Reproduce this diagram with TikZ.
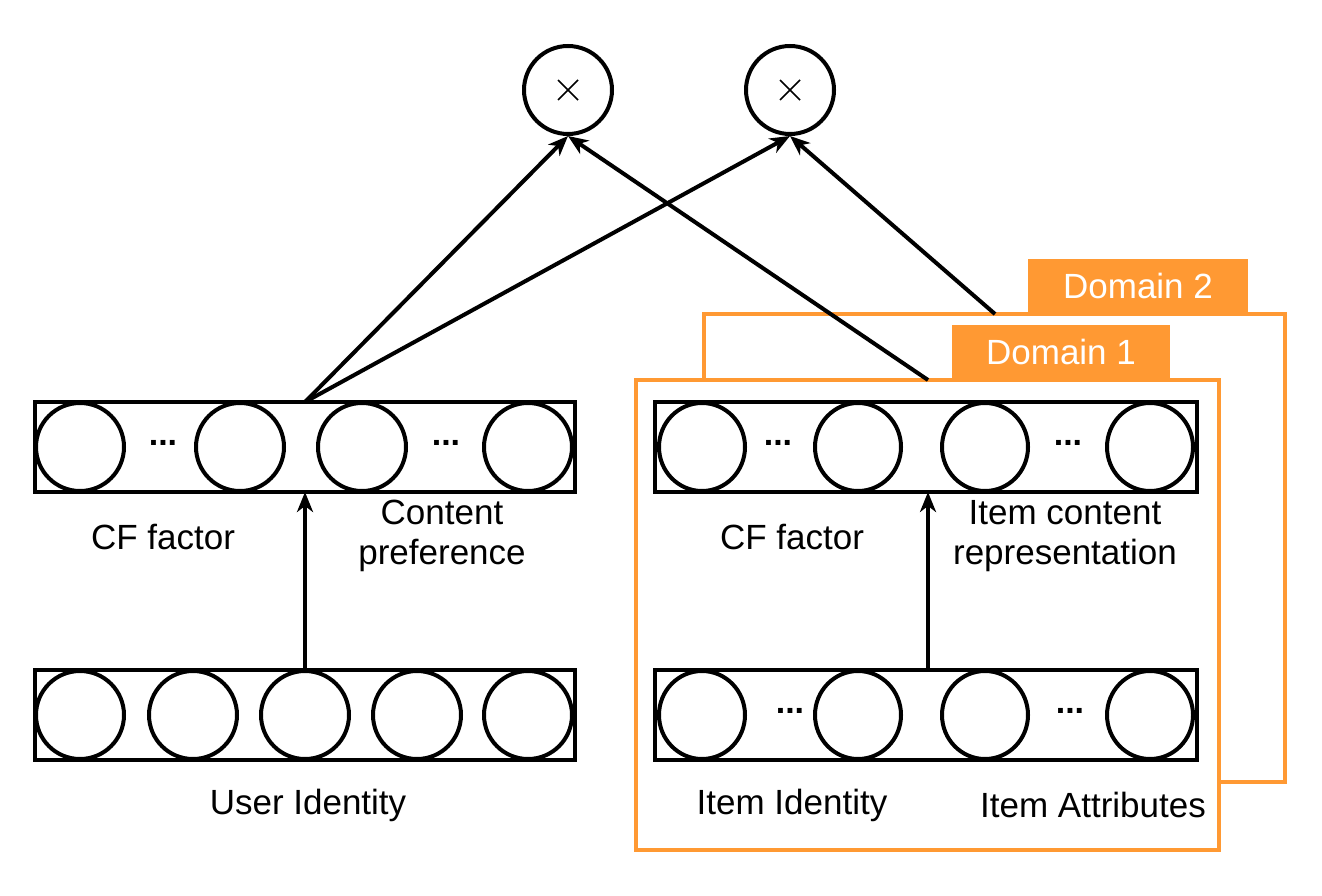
\documentclass[tikz,border=0pt]{standalone}
\usepackage{fontspec}
\setmainfont{Liberation Sans}
\usetikzlibrary{arrows.meta,shapes.geometric}
\definecolor{dorange}{RGB}{255,153,51}
\begin{document}
\begin{tikzpicture}[x=1pt,y=-1pt,
  lbl/.style={font=\fontsize{35}{40}\selectfont, align=center, inner sep=0pt},
  unit/.style={draw, line width=4pt, ellipse, minimum width=88pt, minimum height=88pt, inner sep=0pt},
  runit/.style={draw, line width=4pt, ellipse, minimum width=86pt, minimum height=88pt, inner sep=0pt},
  layer/.style={draw, line width=4pt},
  mult/.style={draw, line width=4pt, circle, minimum size=88pt, inner sep=0pt},
  cross/.style={line width=1.6pt},
  dots/.style={font=\bfseries\fontsize{34}{38}\selectfont, inner sep=0pt},
  conn/.style={line width=4pt, -{Stealth[length=20pt,width=16pt,inset=6pt]}},
  dom/.style={draw=dorange, line width=4pt, fill=white},
  tab/.style={fill=dorange, text=white, font=\fontsize{35}{40}\selectfont, inner sep=0pt}
]
\useasboundingbox (0,0) rectangle (1322,896);

% multiply nodes
\node[mult] (m1) at (568,90) {};
\node[mult] (m2) at (790,90) {};
\draw[cross] ([shift={(-10,-10)}]m1.center) -- ([shift={(10,10)}]m1.center);
\draw[cross] ([shift={(-10,10)}]m1.center) -- ([shift={(10,-10)}]m1.center);
\draw[cross] ([shift={(-10,-10)}]m2.center) -- ([shift={(10,10)}]m2.center);
\draw[cross] ([shift={(-10,10)}]m2.center) -- ([shift={(10,-10)}]m2.center);

% domain frames
\draw[dom] (704,314) rectangle (1285,782);
\fill[dorange] (1028,259) rectangle (1248,314);
\node[tab] (d2) at (1138,286) {Domain 2};
\coordinate (d2top) at (995,314);
\draw[dom] (636,380) rectangle (1219,850);
\fill[dorange] (952,325) rectangle (1170,380);
\node[tab] (d1) at (1061,352) {Domain 1};
\coordinate (d1top) at (928,380);

% left top layer
\draw[layer] (35,402) rectangle (575,492);
\coordinate (lt) at (305,402);
\coordinate (ltb) at (305,492);
\node[unit] (a1) at (80,447) {};
\node[unit] (a2) at (240,447) {};
\node[unit] (a3) at (362,447) {};
\node[unit] (a4) at (528,447) {};
\node[dots] (ad1) at (163,443) {...};
\node[dots] (ad2) at (446,443) {...};

% left bottom layer
\draw[layer] (35,670) rectangle (575,760);
\coordinate (lb) at (305,670);
\node[unit] (b1) at (80,715) {};
\node[unit] (b2) at (193,715) {};
\node[unit] (b3) at (305,715) {};
\node[unit] (b4) at (417,715) {};
\node[unit] (b5) at (528,715) {};

% right top layer
\draw[layer] (655,402) rectangle (1197,492);
\coordinate (rt) at (928,402);
\coordinate (rtb) at (928,492);
\node[runit] (c1) at (702,447) {};
\node[runit] (c2) at (858,447) {};
\node[runit] (c3) at (985,447) {};
\node[runit] (c4) at (1150,447) {};
\node[dots] (cd1) at (778,443) {...};
\node[dots] (cd2) at (1068,443) {...};

% right bottom layer
\draw[layer] (655,670) rectangle (1197,760);
\coordinate (rb) at (928,670);
\node[runit] (e1) at (702,715) {};
\node[runit] (e2) at (858,715) {};
\node[runit] (e3) at (985,715) {};
\node[runit] (e4) at (1150,715) {};
\node[dots] (ed1) at (790,711) {...};
\node[dots] (ed2) at (1070,711) {...};

% labels
\node[lbl] (l1) at (163,537) {CF factor};
\node[lbl] (l2) at (442,536) {Content\\preference};
\node[lbl] (l3) at (308,805) {User Identity};
\node[lbl] (l4) at (792,537) {CF factor};
\node[lbl] (l5) at (1065,536) {Item content\\representation};
\node[lbl] (l6) at (792,805) {Item Identity};
\node[lbl] (l7) at (1093,805) {Item Attributes};

% connectors
\draw[conn] (lb) -- (ltb);
\draw[conn] (rb) -- (rtb);
\draw[conn] (lt) -- (m1.south);
\draw[conn] (lt) -- (m2.south);
\draw[conn] (d1top) -- (m1.south);
\draw[conn] (d2top) -- (m2.south);
\end{tikzpicture}
\end{document}
